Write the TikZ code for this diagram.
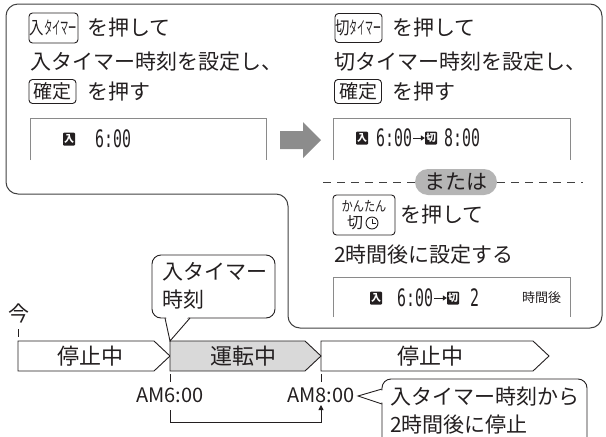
\documentclass[tikz,border=0pt]{standalone}
\usepackage{fontspec}
\setmainfont{Noto Sans CJK JP}
\newfontfamily\segfont{DejaVu Sans Mono}
\usetikzlibrary{arrows.meta,calc}
\definecolor{ink}{HTML}{231F20}
\definecolor{outl}{HTML}{404040}
\definecolor{lcdgray}{HTML}{8A8A8A}
\definecolor{arrowgray}{HTML}{8C8C8C}
\definecolor{pillgray}{HTML}{B5B5B5}
\definecolor{bargray}{HTML}{D9D9D9}
\begin{document}
\begin{tikzpicture}[x=1pt,y=-1pt,
  txt/.style={anchor=west,inner sep=0pt,font=\fontsize{21}{24}\selectfont,text=ink},
  ctxt/.style={inner sep=0pt,font=\fontsize{22}{24}\selectfont,text=ink},
  keyb/.style={draw=ink,line width=0.9pt,rounded corners=3.5pt,inner sep=0pt,text=ink},
  lcd/.style={draw=lcdgray,line width=1pt},
  ico/.style={fill=ink,text=white,inner sep=0pt,minimum width=12pt,minimum height=13pt,rounded corners=1pt,font=\fontsize{10}{10}\selectfont\bfseries},
  seg/.style={anchor=west,inner sep=0pt,text=ink},
  bar/.style={draw=ink,line width=0.9pt},
  tickl/.style={draw=ink,line width=0.8pt},
  ampm/.style={inner sep=0pt,font=\fontsize{20}{22}\selectfont,text=ink},
]
\useasboundingbox (0,0) rectangle (606,437);

% outline
\draw[draw=outl,line width=1pt,rounded corners=12pt]
  (6,4) -- (602,4) -- (602,328) -- (288,328) -- (288,194) -- (6,194) -- cycle;

% ---------- left panel ----------
\node[keyb,minimum width=49pt,minimum height=30pt] (k1) at (53.5,28)
  {\fontsize{18}{18}\selectfont\scalebox{0.8}[1]{入}\scalebox{0.46}[1]{タイマー}};
\node[txt] (t1) at (87,28) {を押して};
\node[txt] (t2) at (30,62) {入タイマー時刻を設定し、};
\node[keyb,minimum width=47pt,minimum height=24pt,font=\fontsize{19}{19}\selectfont] (k2) at (52.5,91.5) {確定};
\node[txt] (t3) at (87,92) {を押す};

\draw[lcd] (30,160) -- (30,118) -- (266,118) -- (266,160);
\node[ico] (i1) at (69,139) {入};
\node[seg] (d1) at (95,139) {\scalebox{0.62}[1]{\segfont\fontsize{24}{24}\selectfont 6:00}};

% gray arrow
\fill[arrowgray] (280,131) -- (303,131) -- (303,122) -- (321,140) -- (303,158) -- (303,149) -- (280,149) -- cycle;

% ---------- right panel ----------
\node[keyb,minimum width=47pt,minimum height=29pt] (k3) at (358.5,28)
  {\fontsize{18}{18}\selectfont\scalebox{0.8}[1]{切}\scalebox{0.44}[1]{タイマー}};
\node[txt] (t4) at (392,28) {を押して};
\node[txt] (t5) at (334,62) {切タイマー時刻を設定し、};
\node[keyb,minimum width=47pt,minimum height=24pt,font=\fontsize{19}{19}\selectfont] (k4) at (358,91.5) {確定};
\node[txt] (t6) at (392,92) {を押す};

\draw[lcd] (333,160) -- (333,118) -- (570,118) -- (570,160);
\node[ico] (i2) at (362,138) {入};
\node[seg] (d2) at (376,138) {\scalebox{0.62}[1]{\segfont\fontsize{24}{24}\selectfont 6:00}};
\node[ico] (i3) at (431,138) {切};
\draw[ink,line width=1pt,-{Triangle[length=4pt,width=5pt]}] (d2.east) ++(1,0) coordinate (a1s) -- (i3.west);
\node[seg] (d3) at (444,138) {\scalebox{0.62}[1]{\segfont\fontsize{24}{24}\selectfont 8:00}};

% dashed separator
\node[fill=pillgray,rounded corners=13pt,minimum width=82pt,minimum height=26pt,inner sep=0pt,
  font=\fontsize{21}{24}\selectfont,text=ink] (mata) at (456,182) {または};
\coordinate (dl) at (323,182);
\coordinate (dr) at (583,182);
\draw[outl,line width=1pt,dash pattern=on 8pt off 6pt] (dl) -- (mata.west);
\draw[outl,line width=1pt,dash pattern=on 8pt off 6pt] (mata.east) -- (dr);

\node[keyb,minimum width=62pt,minimum height=40pt] (k5) at (364,215) {};
\node[inner sep=0pt,text=ink,font=\fontsize{14}{14}\selectfont] (k5a) at (364,206.5) {\scalebox{0.8}[1]{かんたん}};
\node[inner sep=0pt,text=ink,font=\fontsize{16}{16}\selectfont] (k5b) at (355,223) {切};
\draw[ink,line width=0.9pt] (372,223) circle (6pt);
\draw[ink,line width=0.9pt] (372,219) -- (372,223) -- (375.5,223);
\node[txt] (t7) at (400,215) {を押して};
\node[txt] (t8) at (334,255) {2時間後に設定する};

\draw[lcd] (333,317) -- (333,277) -- (570,277) -- (570,317);
\node[ico] (i4) at (376,298) {入};
\node[seg] (d4) at (397,298) {\scalebox{0.62}[1]{\segfont\fontsize{24}{24}\selectfont 6:00}};
\node[ico] (i5) at (453,298) {切};
\draw[ink,line width=1pt,-{Triangle[length=4pt,width=5pt]}] (d4.east) ++(1,0) coordinate (a2s) -- (i5.west);
\node[seg] (d5) at (470,298) {\scalebox{0.62}[1]{\segfont\fontsize{24}{24}\selectfont 2}};
\node[anchor=west,inner sep=0pt,text=ink,font=\fontsize{13}{13}\selectfont] (jk) at (522,298) {時間後};

% ---------- timeline ----------
\node[ctxt,font=\fontsize{21}{22}\selectfont] (ima) at (19,314) {今};
\draw[tickl] (18,329) -- (18,337);

\draw[bar] (18,341) -- (154,341) -- (170,356) -- (154,371) -- (18,371) -- cycle;
\draw[bar,fill=bargray] (170,341) -- (305,341) -- (321,356) -- (305,371) -- (170,371) -- cycle;
\draw[bar] (321,341) -- (533,341) -- (549,356) -- (533,371) -- (321,371) -- cycle;
\node[ctxt] (s1) at (90,356) {停止中};
\node[ctxt] (s2) at (243,356) {運転中};
\node[ctxt] (s3) at (430,356) {停止中};

\draw[tickl] (170,374) -- (170,382);
\draw[tickl] (321,374) -- (321,382);
\node[ampm] (am6) at (170,395) {AM6:00};
\node[ampm] (am8) at (321,395) {AM8:00};

\coordinate (b1) at (170,410);
\coordinate (b2) at (321,405);
\draw[ink,line width=0.9pt,-{Triangle[length=5pt,width=5pt]}] (b1) -- (170,422) -- (321,422) -- (b2);

% callout 1
\draw[bar,fill=white,rounded corners=9pt] (152,255) rectangle (275,318);
\fill[white] (166,316) -- (170,340) -- (189,316) -- cycle;
\coordinate (c1tip) at (170,341);
\draw[bar] (165,318) -- (c1tip) -- (190,318);
\node[txt] (c1a) at (162,272) {入タイマー};
\node[txt] (c1b) at (162,300) {時刻};

% callout 2
\draw[bar,fill=white,rounded corners=9pt] (382,379) rectangle (587,452);
\fill[white] (384,390) -- (359,396) -- (384,403) -- cycle;
\coordinate (c2tip) at (358,396);
\draw[bar] (382,389) -- (c2tip) -- (382,404);
\node[txt] (c2a) at (390,397) {入タイマー時刻から};
\node[txt] (c2b) at (390,425) {2時間後に停止};
\end{tikzpicture}
\end{document}
